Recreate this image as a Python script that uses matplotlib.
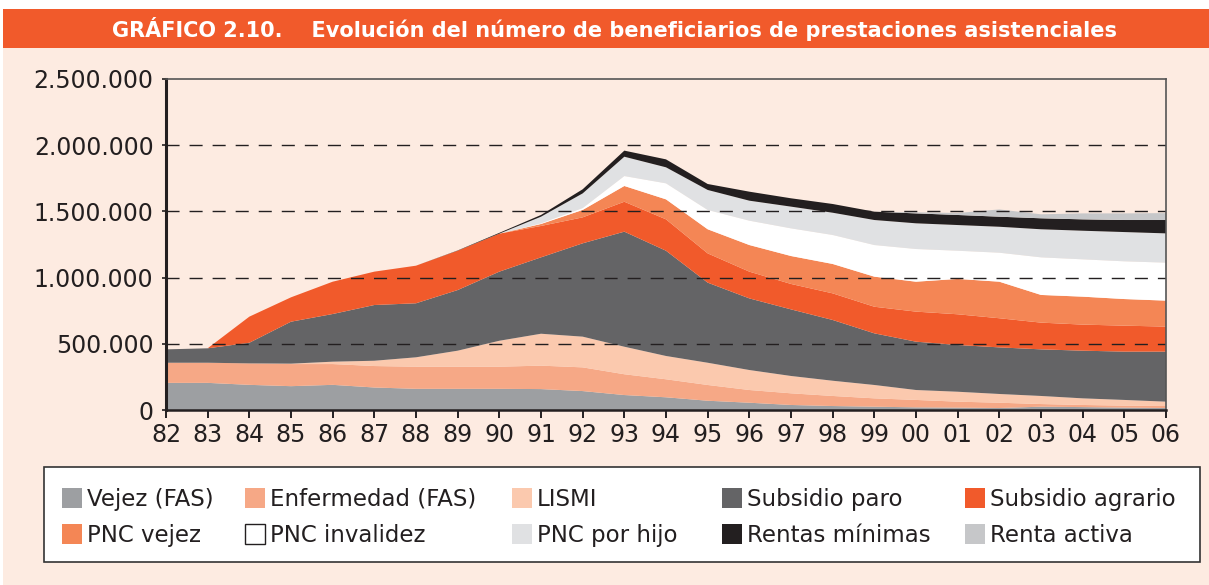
import numpy as np
import matplotlib.pyplot as plt
from matplotlib.patches import Rectangle

W, H = 1209, 585
PEACH = '#FDEBE1'
ORANGE = '#F15A2B'
INK = '#231F20'

# data (miles de beneficiarios), 1982-2006
years = list(range(1982, 2007))
year_labels = ['82', '83', '84', '85', '86', '87', '88', '89', '90', '91', '92', '93', '94',
               '95', '96', '97', '98', '99', '00', '01', '02', '03', '04', '05', '06']

vejez_fas = [205, 205, 190, 180, 190, 170, 160, 160, 160, 158, 143, 113, 96,
             70, 55, 38, 30, 25, 20, 18, 15, 25, 22, 18, 15]
enfermedad_fas = [152, 152, 162, 167, 157, 162, 167, 167, 167, 177, 179, 157, 136,
                  119, 96, 88, 76, 63, 56, 45, 40, 20, 16, 15, 15]
lismi = [0, 0, 0, 3, 18, 40, 71, 121, 196, 241, 232, 208, 176,
         168, 151, 131, 115, 101, 75, 75, 66, 61, 50, 43, 33]
subsidio_paro = [101, 109, 156, 317, 360, 421, 408, 458, 522, 577, 705, 869, 795,
                 605, 541, 503, 459, 390, 365, 353, 352, 352, 360, 365, 378]
subsidio_agrario = [0, 0, 197, 184, 244, 252, 284, 297, 287, 237, 196, 226, 237,
                    221, 202, 192, 201, 201, 227, 232, 220, 202, 197, 196, 189]
pnc_vejez = [0, 0, 0, 0, 0, 0, 0, 0, 0, 15, 56, 119, 151,
             182, 201, 211, 222, 227, 226, 267, 276, 209, 211, 201, 196]
pnc_invalidez = [0, 0, 0, 0, 0, 0, 0, 0, 0, 5, 14, 75, 121,
                 146, 184, 209, 219, 239, 247, 213, 219, 284, 282, 285, 287]
pnc_hijo = [0, 0, 0, 0, 0, 0, 0, 0, 0, 50, 111, 146, 121,
            151, 151, 164, 168, 189, 194, 194, 196, 212, 216, 221, 221]
rentas_minimas = [0, 0, 0, 0, 0, 0, 0, 2, 6, 13, 31, 46, 60,
                  45, 68, 63, 66, 63, 75, 76, 76, 83, 86, 91, 101]
renta_activa = [0, 0, 0, 0, 0, 0, 0, 0, 0, 0, 0, 0, 0,
                0, 0, 0, 0, 0, 8, 15, 55, 30, 45, 50, 52]

series = [vejez_fas, enfermedad_fas, lismi, subsidio_paro, subsidio_agrario,
          pnc_vejez, pnc_invalidez, pnc_hijo, rentas_minimas, renta_activa]
names = ['Vejez (FAS)', 'Enfermedad (FAS)', 'LISMI', 'Subsidio paro', 'Subsidio agrario',
         'PNC vejez', 'PNC invalidez', 'PNC por hijo', 'Rentas mínimas', 'Renta activa']
colors = ['#9D9FA2', '#F6A886', '#FBC9AE', '#646466', ORANGE,
          '#F48655', '#FFFFFF', '#E0E1E3', INK, '#C6C7C9']

yticks = [0, 500000, 1000000, 1500000, 2000000, 2500000]
ytick_labels = ['0', '500.000', '1.000.000', '1.500.000', '2.000.000', '2.500.000']


def fx(px):
    return px / W


def fy(py):
    return 1 - py / H


fig = plt.figure(figsize=(W / 100, H / 100), dpi=100, facecolor='white')

# panel background and title band
fig.add_artist(Rectangle((fx(3), 0), 1, fy(48), transform=fig.transFigure,
                         facecolor=PEACH, edgecolor='none', zorder=0))
fig.add_artist(Rectangle((fx(3), fy(48)), 1, fy(9) - fy(48), transform=fig.transFigure,
                         facecolor=ORANGE, edgecolor='none', zorder=0))
fig.text(fx(615), fy(29), 'GRÁFICO 2.10.    Evolución del número de beneficiarios de prestaciones asistenciales',
         color='white', fontsize=15, fontweight='bold', ha='center', va='center')

ax = fig.add_axes([fx(166), fy(410), fx(1166) - fx(166), fy(79) - fy(410)])
ax.set_facecolor(PEACH)

vals = [np.array(s) * 1000 for s in series]
ax.stackplot(years, *vals, colors=colors, linewidth=0)

for g in yticks[1:-1]:
    ax.axhline(g, color=INK, lw=1.0, linestyle=(0, (9.4, 7.2)), zorder=3)

ax.set_xlim(1982, 2006)
ax.set_ylim(0, 2500000)
ax.set_xticks(years)
ax.set_xticklabels(year_labels)
ax.set_yticks(yticks)
ax.set_yticklabels(ytick_labels)
ax.tick_params(axis='both', labelsize=17, colors=INK)
ax.tick_params(axis='x', direction='out', length=6, width=1.4, pad=3)
ax.tick_params(axis='y', direction='out', length=3, width=1.2, pad=6)

for side in ['top', 'right']:
    ax.spines[side].set_color('#555555')
    ax.spines[side].set_linewidth(1.2)
ax.spines['left'].set_color(INK)
ax.spines['left'].set_linewidth(2.2)
ax.spines['bottom'].set_color(INK)
ax.spines['bottom'].set_linewidth(1.8)
for sp in ax.spines.values():
    sp.set_zorder(4)

# legend box
fig.add_artist(Rectangle((fx(44), fy(562)), fx(1200) - fx(44), fy(467) - fy(562),
                         transform=fig.transFigure, facecolor='white',
                         edgecolor='#333333', linewidth=1.2, zorder=1))
col_x = [62, 245, 512, 722, 965]
row_y = [498, 534]
for i, (name, col) in enumerate(zip(names, colors)):
    r, c = divmod(i, 5)
    x0, y0 = col_x[c], row_y[r]
    edge = INK if col == '#FFFFFF' else 'none'
    fig.add_artist(Rectangle((fx(x0), fy(y0 + 10)), fx(20), 20 / H,
                             transform=fig.transFigure, facecolor=col,
                             edgecolor=edge, linewidth=1.0, zorder=2))
    fig.text(fx(x0 + 25), fy(y0 + 8), name, fontsize=16.5, color=INK,
             ha='left', va='baseline', zorder=2)

fig.savefig('out.png', dpi=100)
